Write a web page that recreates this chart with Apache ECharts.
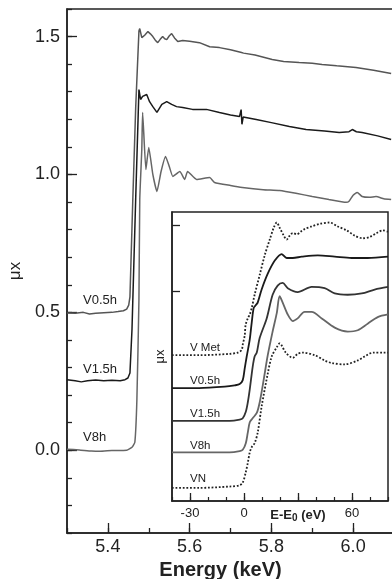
<!DOCTYPE html>
<html>
<head>
<meta charset="utf-8">
<script src="https://cdn.jsdelivr.net/npm/echarts@6.0.0/dist/echarts.min.js"></script>
<style>
  html, body { margin: 0; padding: 0; background: #fff; }
  #chart { width: 392px; height: 579px; }
</style>
</head>
<body>
<div id="chart"></div>
<script>
// main panel: energy (keV) vs mu-x
var mainXTicks = [5.4, 5.6, 5.8, 6.0];
var mainYTicks = [0.0, 0.5, 1.0, 1.5];
var mainNames = ['V0.5h', 'V1.5h', 'V8h'];

var mainV05 = [
  [5.300, 0.498], [5.320, 0.497], [5.340, 0.500], [5.355, 0.494], [5.370, 0.497], [5.390, 0.499],
  [5.410, 0.500], [5.425, 0.503], [5.438, 0.506], [5.446, 0.512], [5.451, 0.526], [5.454, 0.556],
  [5.461, 0.910], [5.468, 1.240], [5.476, 1.520], [5.478, 1.529], [5.483, 1.496], [5.490, 1.505],
  [5.498, 1.518], [5.504, 1.510], [5.510, 1.500], [5.516, 1.487], [5.522, 1.478], [5.528, 1.490],
  [5.534, 1.500], [5.539, 1.492], [5.544, 1.489], [5.550, 1.502], [5.556, 1.511], [5.563, 1.495],
  [5.571, 1.482], [5.583, 1.486], [5.600, 1.483], [5.624, 1.478], [5.649, 1.463], [5.673, 1.460],
  [5.700, 1.452], [5.727, 1.442], [5.729, 1.449], [5.732, 1.440], [5.760, 1.433], [5.802, 1.417],
  [5.830, 1.410], [5.868, 1.406], [5.900, 1.403], [5.924, 1.399], [5.960, 1.394], [6.007, 1.388],
  [6.050, 1.378], [6.093, 1.366]
];
var mainV15 = [
  [5.300, 0.256], [5.320, 0.252], [5.335, 0.248], [5.350, 0.252], [5.370, 0.255], [5.390, 0.252],
  [5.410, 0.254], [5.430, 0.252], [5.442, 0.256], [5.449, 0.262], [5.454, 0.280], [5.459, 0.438],
  [5.468, 0.909], [5.476, 1.308], [5.480, 1.272], [5.485, 1.283], [5.495, 1.290], [5.502, 1.264],
  [5.510, 1.246], [5.520, 1.225], [5.532, 1.254], [5.544, 1.264], [5.556, 1.254], [5.568, 1.246],
  [5.583, 1.243], [5.607, 1.236], [5.641, 1.236], [5.673, 1.225], [5.700, 1.216], [5.722, 1.210],
  [5.726, 1.235], [5.728, 1.182], [5.731, 1.208], [5.763, 1.199], [5.800, 1.188], [5.844, 1.174],
  [5.885, 1.163], [5.930, 1.158], [5.966, 1.152], [5.990, 1.155], [5.998, 1.163], [6.008, 1.155],
  [6.022, 1.152], [6.060, 1.140], [6.093, 1.127]
];
var mainV8 = [
  [5.300, 0.004], [5.330, 0.001], [5.360, -0.003], [5.380, -0.004], [5.410, -0.001], [5.446, 0.000],
  [5.459, 0.011], [5.466, 0.029], [5.471, 0.185], [5.476, 0.547], [5.478, 0.909], [5.483, 1.091],
  [5.485, 1.225], [5.493, 1.018], [5.500, 1.098], [5.510, 1.000], [5.520, 0.938], [5.530, 1.010],
  [5.541, 1.065], [5.550, 1.030], [5.559, 0.993], [5.576, 1.011], [5.588, 0.982], [5.595, 1.011],
  [5.617, 0.982], [5.649, 0.989], [5.661, 0.971], [5.700, 0.960], [5.729, 0.953], [5.780, 0.945],
  [5.820, 0.942], [5.860, 0.932], [5.900, 0.920], [5.941, 0.909], [5.983, 0.899], [5.990, 0.903],
  [6.000, 0.925], [6.010, 0.935], [6.022, 0.920], [6.040, 0.917], [6.056, 0.920], [6.075, 0.912],
  [6.093, 0.909]
];

// inset: E - E0 (eV) vs normalised mu-x, stacked
var insetXTicks = [-30, 0, 30, 60];
var insetYTicks = [1.5, 2.0];
var insetNames = ['V Met', 'V0.5h', 'V1.5h', 'V8h', 'VN'];

var insetVMet = [
  [-40, 1.01], [-25, 1.01], [-8, 1.02], [-3.5, 1.03], [-1.3, 1.05], [-0.7, 1.09], [0.4, 1.16],
  [0.9, 1.24], [2.1, 1.29], [3.2, 1.32], [4.3, 1.37], [5.9, 1.47], [8.7, 1.62], [11.5, 1.77],
  [14.3, 1.89], [16.5, 1.98], [18.2, 2.02], [19.8, 1.98], [22.1, 1.92], [23.7, 1.89], [25.4, 1.92],
  [27.1, 1.94], [29.3, 1.93], [31.5, 1.95], [33.7, 1.97], [37.6, 1.99], [42.1, 2.01], [47.6, 2.02],
  [52.1, 1.99], [57.1, 1.96], [61.5, 1.92], [66.0, 1.90], [69.8, 1.91], [73.7, 1.94], [77.1, 1.96],
  [80, 1.95]
];
var insetV05 = [
  [-40, 0.76], [-25, 0.76], [-10.7, 0.77], [-5.2, 0.78], [-2.4, 0.79], [-0.7, 0.82], [0.4, 0.91],
  [1.5, 1.00], [3.2, 1.13], [4.3, 1.26], [5.4, 1.37], [6.5, 1.39], [7.6, 1.41], [9.8, 1.51],
  [13.2, 1.63], [17.1, 1.73], [20.9, 1.78], [23.7, 1.75], [27.1, 1.75], [32.1, 1.76], [41.0, 1.77],
  [50.4, 1.76], [59.8, 1.75], [68.7, 1.75], [80, 1.76]
];
var insetV15 = [
  [-40, 0.51], [-25, 0.51], [-8, 0.51], [-2.4, 0.52], [-0.7, 0.53], [1.0, 0.58], [2.1, 0.65],
  [3.2, 0.75], [4.8, 0.92], [5.9, 1.00], [7.1, 1.03], [8.7, 1.14], [12.6, 1.29], [15.9, 1.47],
  [18.7, 1.54], [21.5, 1.56], [24.3, 1.52], [29.8, 1.49], [37.6, 1.53], [44.8, 1.52], [50.4, 1.48],
  [57.6, 1.47], [65.4, 1.48], [72.6, 1.51], [80, 1.53]
];
var insetV8 = [
  [-40, 0.27], [-25, 0.27], [-8, 0.27], [-2.4, 0.28], [-0.7, 0.29], [1.0, 0.34], [2.1, 0.42],
  [3.2, 0.50], [4.8, 0.53], [7.1, 0.57], [8.7, 0.65], [10.9, 0.82], [13.2, 1.01], [15.9, 1.19],
  [18.2, 1.33], [19.8, 1.46], [21.5, 1.41], [24.3, 1.32], [27.1, 1.27], [29.8, 1.29], [33.7, 1.34],
  [37.6, 1.34], [43.2, 1.29], [50.4, 1.22], [57.6, 1.19], [63.2, 1.20], [68.7, 1.25], [74.3, 1.30],
  [80, 1.32]
];
var insetVN = [
  [-40, 0.00], [-25, 0.00], [-8, 0.01], [-2.4, 0.02], [-0.7, 0.04], [1.0, 0.12], [2.1, 0.19],
  [3.2, 0.27], [4.3, 0.31], [5.9, 0.34], [7.6, 0.42], [9.8, 0.62], [13.2, 0.87], [15.4, 1.00],
  [18.2, 1.07], [19.8, 1.10], [23.2, 1.03], [27.1, 0.99], [29.8, 1.02], [32.6, 1.03], [39.3, 1.01],
  [44.8, 0.97], [48.7, 0.95], [55.9, 0.94], [63.2, 0.97], [72.1, 1.03], [77.6, 1.03], [80, 1.03]
];

var FONT = '"Liberation Sans", Arial, Helvetica, sans-serif';
var INK = '#222';

var chart = echarts.init(document.getElementById('chart'));

function line(name, data, xi, color, width, type, smooth) {
  return {
    name: name, type: 'line', data: data,
    xAxisIndex: xi, yAxisIndex: xi,
    showSymbol: false, smooth: smooth, silent: true,
    lineStyle: { color: color, width: width, type: type }
  };
}

var axisLn = { onZero: false, lineStyle: { color: INK, width: 1.5 } };
var noLn = { show: false, onZero: false };

var option = {
  animation: false,
  backgroundColor: '#fff',
  textStyle: { fontFamily: FONT },
  grid: [
    { left: 67, top: 9, width: 327, height: 524, show: true, borderColor: INK, borderWidth: 1.5,
      containLabel: false, outerBoundsMode: 'none' },
    { left: 172, top: 212, width: 216, height: 289, show: true, backgroundColor: '#fff', borderColor: INK, borderWidth: 1.5,
      containLabel: false, outerBoundsMode: 'none' }
  ],
  xAxis: [
    { gridIndex: 0, type: 'value', position: 'bottom', min: 5.3, max: 6.1, interval: 0.1,
      axisLine: axisLn,
      axisTick: { inside: true, length: 5, lineStyle: { color: INK, width: 1.3 } },
      axisLabel: { show: false }, splitLine: { show: false } },
    { gridIndex: 0, type: 'value', position: 'bottom', min: 5.3, max: 6.1,
      axisLine: noLn,
      axisTick: { inside: true, length: 10, customValues: mainXTicks, lineStyle: { color: INK, width: 1.3 } },
      axisLabel: { customValues: mainXTicks, margin: 5, fontSize: 18, color: INK, fontFamily: FONT,
        formatter: function (v) { return v.toFixed(1); } },
      splitLine: { show: false },
      name: 'Energy (keV)', nameLocation: 'middle', nameGap: 27,
      nameTextStyle: { fontSize: 20, fontWeight: 'bold', color: INK, fontFamily: FONT, padding: [0, 20, 0, 0] } },
    { gridIndex: 1, type: 'value', position: 'bottom', min: -40, max: 80, interval: 10,
      axisLine: axisLn,
      axisTick: { inside: true, length: 4, lineStyle: { color: INK, width: 1.2 } },
      axisLabel: { show: false }, splitLine: { show: false } },
    { gridIndex: 1, type: 'value', position: 'bottom', min: -40, max: 80,
      axisLine: noLn,
      axisTick: { inside: true, length: 8, customValues: insetXTicks, lineStyle: { color: INK, width: 1.3 } },
      axisLabel: { customValues: insetXTicks, margin: 6, fontSize: 13, color: INK, fontFamily: FONT,
        formatter: function (v) { return v === 30 ? '{b|E-E}{s|0}{b| (eV)}' : String(v); },
        rich: {
          b: { fontSize: 13, fontWeight: 'bold', color: INK, fontFamily: FONT },
          s: { fontSize: 10, fontWeight: 'bold', color: INK, fontFamily: FONT, verticalAlign: 'bottom', padding: [6, 0, 0, 0] }
        } },
      splitLine: { show: false } }
  ],
  yAxis: [
    { gridIndex: 0, type: 'value', position: 'left', min: -0.3, max: 1.6, interval: 0.1,
      axisLine: axisLn,
      axisTick: { inside: true, length: 5, lineStyle: { color: INK, width: 1.3 } },
      axisLabel: { show: false }, splitLine: { show: false } },
    { gridIndex: 0, type: 'value', position: 'left', min: -0.3, max: 1.6,
      axisLine: noLn,
      axisTick: { inside: true, length: 10, customValues: mainYTicks, lineStyle: { color: INK, width: 1.3 } },
      axisLabel: { customValues: mainYTicks, margin: 7, fontSize: 18, color: INK, fontFamily: FONT,
        formatter: function (v) { return v.toFixed(1); } },
      splitLine: { show: false },
      name: 'μx', nameLocation: 'middle', nameGap: 37,
      nameTextStyle: { fontSize: 17, color: INK, fontFamily: FONT } },
    { gridIndex: 1, type: 'value', position: 'left', min: -0.1, max: 2.1,
      axisLine: axisLn,
      axisTick: { inside: true, length: 8, customValues: insetYTicks, lineStyle: { color: INK, width: 1.3 } },
      axisLabel: { show: false }, splitLine: { show: false },
      name: 'μx', nameLocation: 'middle', nameGap: 5,
      nameTextStyle: { fontSize: 13, color: INK, fontFamily: FONT } }
  ],
  series: [
    line(mainNames[0], mainV05, 0, '#555', 1.5, 'solid', false),
    line(mainNames[1], mainV15, 0, '#1a1a1a', 1.5, 'solid', false),
    line(mainNames[2], mainV8, 0, '#666', 1.5, 'solid', 0.15),
    line(insetNames[0], insetVMet, 2, '#222', 1.8, 'dotted', 0.3),
    line(insetNames[1], insetV05, 2, '#1a1a1a', 1.8, 'solid', 0.3),
    line(insetNames[2], insetV15, 2, '#333', 1.8, 'solid', 0.3),
    line(insetNames[3], insetV8, 2, '#666', 1.8, 'solid', 0.3),
    line(insetNames[4], insetVN, 2, '#222', 1.8, 'dotted', 0.3)
  ]
};

// curve labels
var labelSpots = [
  [83, 300, 13], [83, 369, 13], [83, 437, 13],
  [190, 348, 11.5], [190, 381, 11.5], [190, 414, 11.5], [190, 446, 11.5], [190, 479, 11.5]
];
var labelTexts = mainNames.concat(insetNames);
option.graphic = labelTexts.map(function (t, i) {
  return {
    type: 'text', x: labelSpots[i][0], y: labelSpots[i][1], z: 100,
    style: { text: t, fill: INK, font: labelSpots[i][2] + 'px ' + FONT, align: 'left', verticalAlign: 'middle' }
  };
});

chart.setOption(option);
</script>
</body>
</html>
